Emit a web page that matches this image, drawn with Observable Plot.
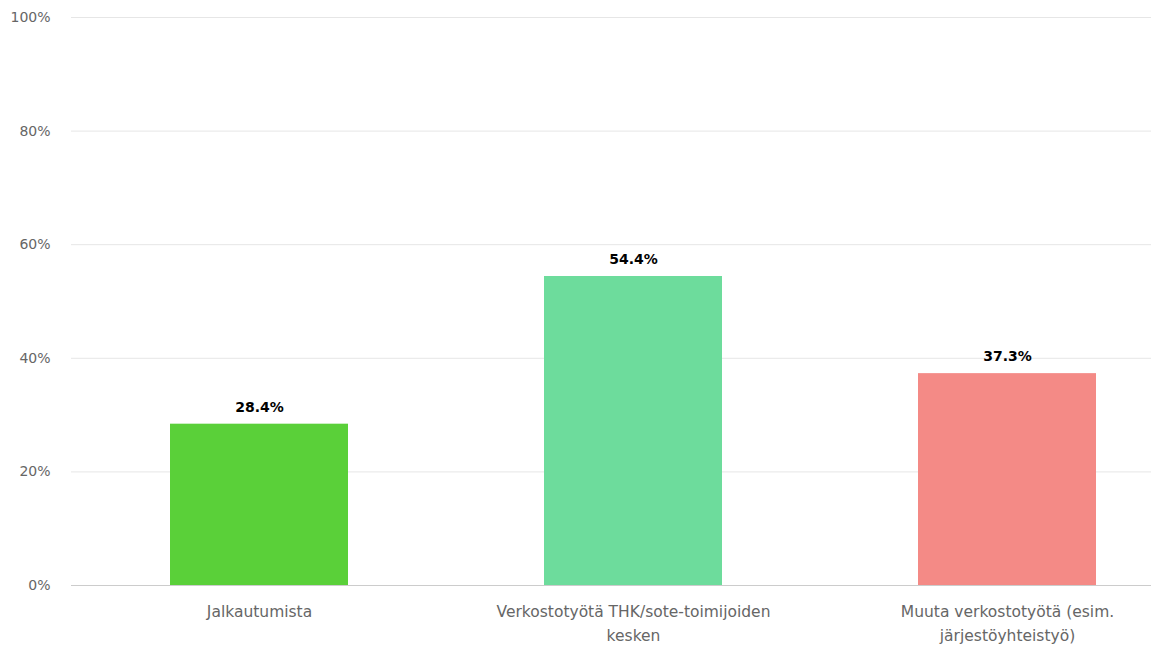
<!DOCTYPE html>
<html>
<head>
<meta charset="utf-8">
<script src="https://cdn.jsdelivr.net/npm/d3@7"></script>
<script src="https://cdn.jsdelivr.net/npm/@observablehq/plot@0.6"></script>
<style>
  html, body { margin: 0; padding: 0; background: #fff; }
  #chart svg { display: block; }
</style>
</head>
<body>
<div id="chart"></div>
<script>
const categories = [
  "Jalkautumista",
  "Verkostotyötä THK/sote-toimijoiden\nkesken",
  "Muuta verkostotyötä (esim.\njärjestöyhteistyö)"
];
const values = [28.4, 54.4, 37.3];
const colors = ["#5ad039", "#6ddc9c", "#f48a86"];
const yTicks = [0, 20, 40, 60, 80, 100];

const data = categories.map((c, i) => ({cat: c, value: values[i], color: colors[i]}));

const chart = Plot.plot({
  width: 1155,
  height: 646,
  marginLeft: 71,
  marginRight: 4,
  marginTop: 17,
  marginBottom: 61,
  style: {fontFamily: "'DejaVu Sans', sans-serif", fontSize: "13px", background: "#fff"},
  x: {domain: categories, range: [71, 1194], paddingInner: 0.525, paddingOuter: 0.2625, label: null},
  y: {domain: [0, 100], label: null, ticks: yTicks},
  marks: [
    Plot.ruleY(yTicks.filter(d => d > 0), {stroke: "#e6e6e6", strokeWidth: 1}),
    Plot.barY(data, {x: "cat", y: "value", fill: "color"}),
    Plot.ruleY([0], {stroke: "#cccccc", strokeWidth: 1}),
    Plot.text(data, {x: "cat", y: "value", text: d => d.value.toFixed(1) + "%", dy: -17, fontWeight: "bold", fontSize: 14, fill: "#000"}),
    Plot.axisY({ticks: yTicks, tickFormat: d => d + "%", tickSize: 0, tickPadding: 21, fontSize: 14, fill: "#666", label: null}),
    Plot.axisX({tickSize: 0, tickPadding: 14, fontSize: 15.5, fill: "#666", label: null, lineHeight: 1.55})
  ]
});
document.getElementById("chart").appendChild(chart);
</script>
</body>
</html>
